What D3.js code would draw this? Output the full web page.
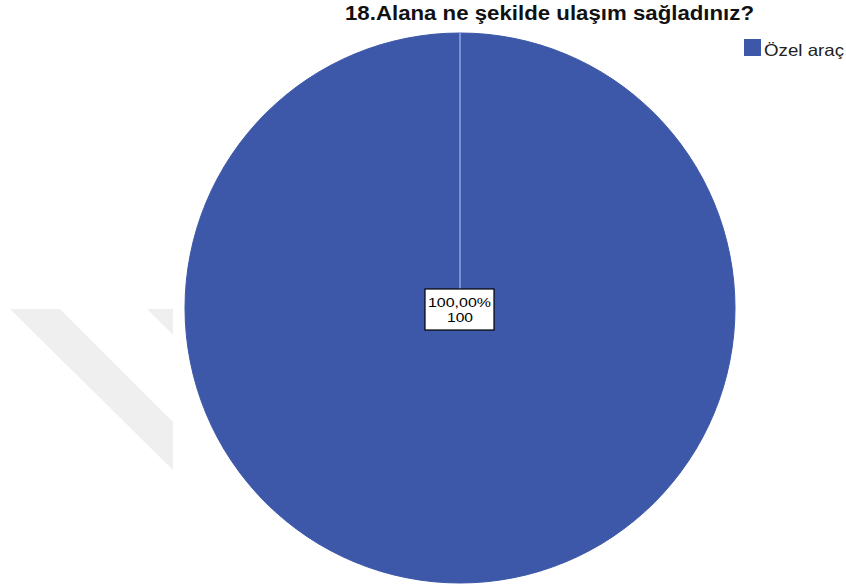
<!DOCTYPE html>
<html>
<head>
<meta charset="utf-8">
<script src="https://cdn.jsdelivr.net/npm/d3@7"></script>
<style>
  body { margin: 0; background: #fff; }
  text { font-family: "Liberation Sans", Arial, sans-serif; }
</style>
</head>
<body>
<div id="chart"></div>
<script>
// Chart data
var categories = ["Özel araç"];
var counts = [100];
var percents = ["100,00%"];
var colors = ["#3d58a9"];
var title = "18.Alana ne şekilde ulaşım sağladınız?";

function init() {
    var w = 846;
    var h = 587;

    var svg = d3.select("#chart")
                .append("svg")
                .attr("width", w)
                .attr("height", h);

    // faint watermark strips in the background
    var wm = svg.append("g").attr("fill", "#efefef");
    wm.append("polygon").attr("points", "10,309 60,309 173,422 173,470");
    wm.append("polygon").attr("points", "147,309 173,309 173,335");

    // title (the original font is a bit wider than Arial)
    svg.append("text")
        .attr("x", 345)
        .attr("y", 20)
        .attr("textLength", 409)
        .attr("lengthAdjust", "spacingAndGlyphs")
        .style("font-size", "19.5px")
        .style("font-weight", "bold")
        .style("fill", "#111")
        .text(title);

    var cx = 460, cy = 308, r = 275;

    var pie = d3.pie().sort(null).value(function(d) { return d; });
    var arc = d3.arc().innerRadius(0).outerRadius(r);
    var color = d3.scaleOrdinal().domain(categories).range(colors);

    var g = svg.append("g").attr("transform", "translate(" + cx + "," + cy + ")");

    g.selectAll("path")
        .data(pie(counts))
        .enter()
        .append("path")
        .attr("d", arc)
        .attr("fill", function(d, i) { return color(categories[i]); })
        .attr("stroke", "#3d58a9")
        .attr("stroke-width", 1);

    // slice boundary line from the centre to the start angle
    pie(counts).forEach(function(d) {
        var a = d.startAngle;
        g.append("line")
            .attr("x1", 0).attr("y1", 0)
            .attr("x2", r * Math.sin(a))
            .attr("y2", -r * Math.cos(a))
            .attr("stroke", "#8ea6e6")
            .attr("stroke-width", 1.5);
    });

    // value labels
    pie(counts).forEach(function(d, i) {
        var c = counts.length === 1 ? [0, 0] : d3.arc().innerRadius(r * 0.6).outerRadius(r * 0.6).centroid(d);
        var lg = g.append("g").attr("transform", "translate(" + c[0] + "," + c[1] + ")");
        lg.append("rect")
            .attr("x", -35).attr("y", -19)
            .attr("width", 69).attr("height", 41)
            .attr("fill", "#fff")
            .attr("stroke", "#000")
            .attr("stroke-width", 1.2);
        lg.append("text")
            .attr("x", -32)
            .attr("y", -1)
            .attr("textLength", 63)
            .attr("lengthAdjust", "spacingAndGlyphs")
            .style("font-size", "13px")
            .text(percents[i]);
        lg.append("text")
            .attr("text-anchor", "middle")
            .attr("y", 14)
            .attr("transform", "scale(1.2,1)")
            .style("font-size", "13px")
            .text(counts[i]);
    });

    // legend
    var legend = svg.append("g").attr("transform", "translate(744,39)");
    var items = legend.selectAll("g")
        .data(categories)
        .enter()
        .append("g")
        .attr("transform", function(d, i) { return "translate(0," + i * 22 + ")"; });
    items.append("rect")
        .attr("width", 17).attr("height", 17)
        .attr("fill", function(d) { return color(d); });
    items.append("text")
        .attr("x", 20).attr("y", 17)
        .attr("textLength", 80)
        .attr("lengthAdjust", "spacingAndGlyphs")
        .style("font-size", "16.5px")
        .style("fill", "#222")
        .text(function(d) { return d; });
}

window.onload = init;
</script>
</body>
</html>
